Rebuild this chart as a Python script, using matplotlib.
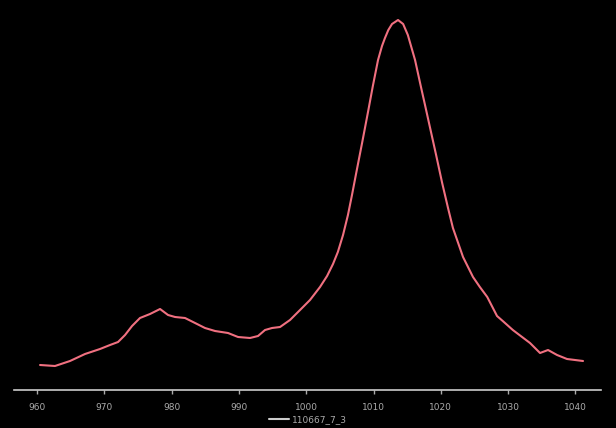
import matplotlib
matplotlib.use("Agg")
import matplotlib.pyplot as plt

# raman shift (cm-1) and intensity (a.u.)
wn = [960.45, 962.67, 964.90, 967.13, 969.36, 970.85, 972.04, 973.08, 974.12,
      975.30, 976.79, 978.28, 979.47, 980.51, 981.99, 983.48, 984.96, 986.45,
      988.38, 989.87, 991.65, 992.84, 993.88, 994.92, 996.11, 997.59, 999.08,
      1000.56, 1002.05, 1003.1, 1003.98, 1004.7, 1005.47, 1006.2, 1006.8,
      1007.4, 1008.3, 1009.18, 1009.9, 1010.67, 1011.26, 1011.7,
      1012.2, 1012.75, 1013.64, 1014.4, 1015.1, 1016.17, 1017.05, 1017.65,
      1018.54, 1019.3, 1020.2, 1021.07, 1021.8, 1023.30, 1024.78, 1025.8,
      1026.9, 1028.35, 1029.2, 1030.7, 1033.25, 1034.74, 1035.93, 1037.27,
      1038.75, 1041.13]
inten = [25, 24, 29, 36, 41, 45, 48, 55, 64,
         72, 76, 81, 75, 73, 72, 67, 62, 59,
         57, 53, 52, 54, 60, 62, 63, 70, 80,
         90, 103, 114, 126, 138, 155, 175, 195,
         216, 247, 278, 304, 330, 344, 352,
         360, 366, 370, 366, 355, 330, 303, 285,
         258, 235, 207, 182, 162, 133, 113, 103,
         93, 74, 69, 60, 47, 37, 40, 35,
         31, 29]
ticks = [960, 970, 980, 990, 1000, 1010, 1020, 1030, 1040]
name = "110667_7_3"

fig = plt.figure(figsize=(6.16, 4.28), dpi=100, facecolor="black")
ax = fig.add_axes([14 / 616, 38 / 428, 587 / 616, 380 / 428], facecolor="black")

ax.plot(wn, inten, color="#f07080", lw=1.5, label=name,
        solid_joinstyle="round", solid_capstyle="round")

ax.set_xlim(956.58, 1043.8)
ax.set_ylim(0, 380)
ax.set_xticks(ticks)
ax.set_xticklabels([str(t) for t in ticks])
ax.set_yticks([])
for s in ["top", "right", "left"]:
    ax.spines[s].set_visible(False)
ax.spines["bottom"].set_color("#cccccc")
ax.spines["bottom"].set_linewidth(1.2)
ax.tick_params(axis="x", colors="#aaaaaa", labelsize=6.5, length=3, width=1, pad=6)

leg = fig.legend(loc="lower center", bbox_to_anchor=(0.5, -0.01), frameon=False,
                 fontsize=6.5, handlelength=2.2, handletextpad=0.3)
for t in leg.get_texts():
    t.set_color("#aaaaaa")
for h in leg.get_lines():
    h.set_color("#cccccc")

fig.savefig("out.png", dpi=100, facecolor="black")
